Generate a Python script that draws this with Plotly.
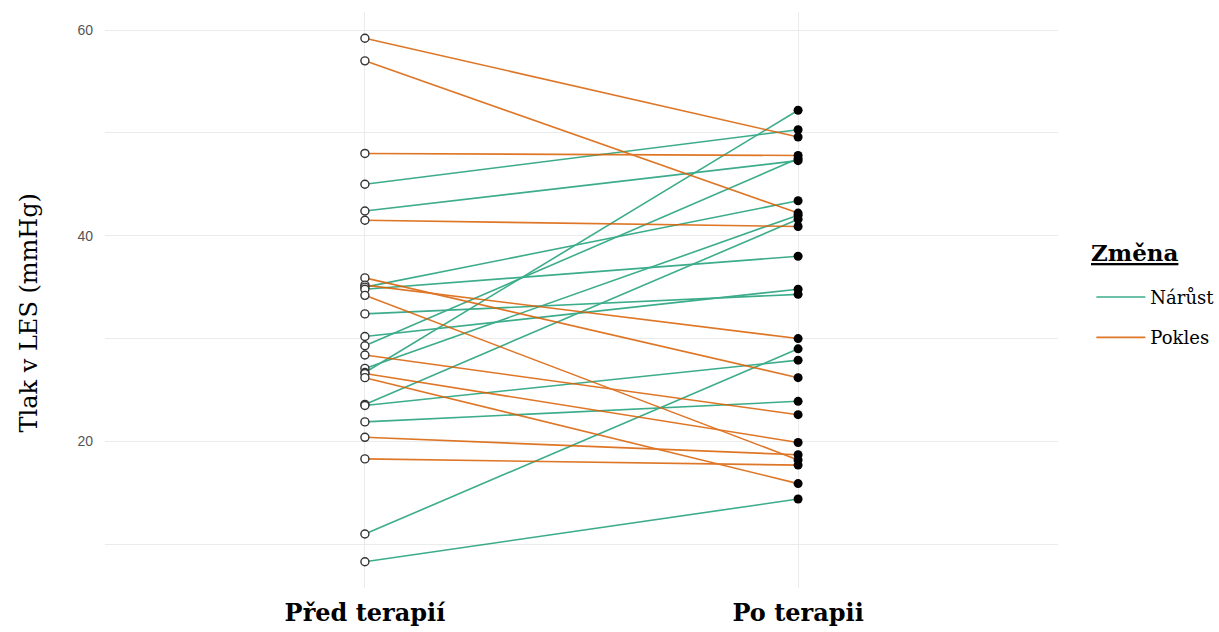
import plotly.graph_objects as go

# Paired LES pressure measurements (mmHg), one entry per patient
pred = [59.2, 57.0, 48.0, 45.0, 42.4, 41.5, 35.9, 35.2, 35.0, 34.8, 34.2, 32.4, 30.2,
        29.3, 28.4, 27.1, 26.7, 26.6, 26.2, 23.6, 23.5, 21.9, 20.4, 18.3, 11.0, 8.3]
po = [49.6, 42.2, 47.8, 50.3, 47.3, 40.9, 26.2, 30.0, 43.4, 38.0, 18.2, 34.3, 34.8,
      47.5, 22.6, 42.0, 52.2, 19.9, 15.9, 41.6, 27.9, 23.9, 18.7, 17.7, 29.0, 14.4]

categories = ["Před terapií", "Po terapii"]
groups = ["Nárůst", "Pokles"]
colors = {"Nárůst": "#1B9E77", "Pokles": "#D95F02"}

SERIF = "DejaVu Serif"

fig = go.Figure()

# Connecting lines, one trace per change direction
for g in groups:
    xs, ys = [], []
    for a, b in zip(pred, po):
        change = "Nárůst" if b > a else "Pokles"
        if change != g:
            continue
        xs += [0, 1, None]
        ys += [a, b, None]
    fig.add_trace(go.Scatter(
        x=xs, y=ys, mode="lines", name=g, legendgroup=g,
        line=dict(color=colors[g], width=1.6), opacity=0.85,
        hoverinfo="skip",
    ))

# Before-therapy values: open circles
fig.add_trace(go.Scatter(
    x=[0] * len(pred), y=pred, mode="markers", showlegend=False,
    marker=dict(size=8, color="white", line=dict(color="#333333", width=1.4)),
))
# After-therapy values: filled circles
fig.add_trace(go.Scatter(
    x=[1] * len(po), y=po, mode="markers", showlegend=False,
    marker=dict(size=9, color="black", line=dict(width=0)),
))

grid = "#EBEBEB"
fig.update_layout(
    width=1219, height=632,
    margin=dict(l=105, r=161, t=12, b=44, autoexpand=False),
    paper_bgcolor="white", plot_bgcolor="white",
    xaxis=dict(
        range=[-0.6, 1.6], tickvals=[0, 1], ticktext=categories,
        showgrid=True, gridcolor=grid, gridwidth=1, zeroline=False,
        showline=False, ticks="", automargin=False,
        tickfont=dict(family=SERIF, size=24, color="black", weight="bold"),
        ticklabelstandoff=8,
    ),
    yaxis=dict(
        range=[5.75, 61.75], tickvals=[20, 40, 60],
        showgrid=True, gridcolor=grid, gridwidth=1.2, zeroline=False,
        showline=False, ticks="", automargin=False,
        minor=dict(tickvals=[10, 30, 50], showgrid=True, gridcolor=grid, gridwidth=0.8),
        tickfont=dict(family="Liberation Sans", size=14, color="#555555"),
        ticklabelstandoff=11,
    ),
    legend=dict(
        x=1.035, xanchor="left", y=0.47, yanchor="middle",
        font=dict(family=SERIF, size=18, color="black"),
        traceorder="grouped", tracegroupgap=14,
        itemwidth=49,
    ),
    annotations=[
        dict(text="<b><u>Změna</u></b>", xref="paper", yref="paper",
             x=1.033, y=0.582, xanchor="left", yanchor="middle", showarrow=False,
             font=dict(family=SERIF, size=23, color="black")),
        dict(text="Tlak v LES (mmHg)", xref="paper", yref="paper",
             x=-0.08, y=0.478, xanchor="center", yanchor="middle", showarrow=False,
             textangle=-90, font=dict(family=SERIF, size=24, color="black")),
    ],
)

fig.write_html("out.html")
